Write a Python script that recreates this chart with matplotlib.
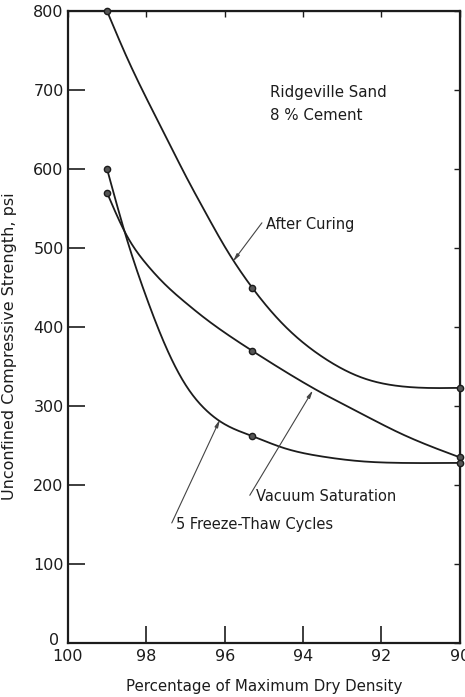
import numpy as np
import matplotlib
matplotlib.use("Agg")
import matplotlib.pyplot as plt
from matplotlib.transforms import ScaledTranslation

# measured strengths (psi) at each density level
density = [99.0, 95.3, 90.0]
after_curing = [800, 450, 323]
vacuum_sat = [570, 370, 235]
freeze_thaw = [600, 262, 228]

# hand-faired curves through the measured points
curve_x = [99.0, 98.5, 98.0, 97.5, 97.0, 96.5, 96.0, 95.3, 94.5, 93.5, 92.5, 91.5, 90.0]
after_curve = [800, 742, 690, 641, 592, 546, 502, 450, 403, 362, 336, 325, 323]
vacuum_curve = [570, 516, 480, 453, 431, 411, 393, 370, 345, 316, 290, 265, 235]
freeze_curve = [600, 512, 438, 375, 327, 296, 277, 262, 247, 236, 230, 228, 228]

x_ticks = [100, 98, 96, 94, 92, 90]
y_ticks = [0, 100, 200, 300, 400, 500, 600, 700, 800]


def spline(xs, ys, n=400):
    """Natural cubic spline through the points, sampled finely."""
    x = np.asarray(xs, float)[::-1]
    y = np.asarray(ys, float)[::-1]
    h = np.diff(x)
    m = len(x)
    A = np.zeros((m, m))
    b = np.zeros(m)
    A[0, 0] = A[-1, -1] = 1
    for i in range(1, m - 1):
        A[i, i - 1] = h[i - 1]
        A[i, i] = 2 * (h[i - 1] + h[i])
        A[i, i + 1] = h[i]
        b[i] = 6 * ((y[i + 1] - y[i]) / h[i] - (y[i] - y[i - 1]) / h[i - 1])
    M = np.linalg.solve(A, b)
    xf = np.linspace(x[0], x[-1], n)
    k = np.clip(np.searchsorted(x, xf) - 1, 0, m - 2)
    t1 = x[k + 1] - xf
    t0 = xf - x[k]
    hk = h[k]
    yf = (M[k] * t1 ** 3 + M[k + 1] * t0 ** 3) / (6 * hk) \
        + (y[k] / hk - M[k] * hk / 6) * t1 + (y[k + 1] / hk - M[k + 1] * hk / 6) * t0
    return xf, yf


fig = plt.figure(figsize=(4.65, 6.97), dpi=100)
ax = fig.add_axes([0.146, 0.0775, 0.843, 0.9065])

ink = "#1c1c1c"
for cy in [after_curve, vacuum_curve, freeze_curve]:
    sx, sy = spline(curve_x, cy)
    ax.plot(sx, sy, color=ink, lw=1.3, clip_on=False, zorder=3)

for vals in [after_curing, vacuum_sat, freeze_thaw]:
    ax.plot(density, vals, "o", ms=4.5, mfc="#555555", mec=ink, mew=1.0,
            clip_on=False, zorder=4)

ax.set_xlim(100, 90)
ax.set_ylim(0, 800)
ax.set_xticks(x_ticks)
ax.set_yticks(y_ticks)
ax.tick_params(direction="in", length=12, width=1.2, labelsize=11.5, colors=ink)
ax.tick_params(axis="x", pad=4)
ax.tick_params(axis="y", pad=3)
for s in ax.spines.values():
    s.set_linewidth(1.6)
    s.set_color(ink)

# lift the zero label clear of the "100" below it
fig.canvas.draw()
zero = ax.get_yticklabels()[0]
zero.set_transform(zero.get_transform() + ScaledTranslation(-3 / 72, 3 / 72, fig.dpi_scale_trans))

# short inward ticks on the top and right frame
top = ax.secondary_xaxis("top")
top.set_xticks(x_ticks)
top.tick_params(direction="in", length=4, width=1.0, labeltop=False, colors=ink)
right = ax.secondary_yaxis("right")
right.set_yticks(y_ticks)
right.tick_params(direction="in", length=4, width=1.0, labelright=False, colors=ink)

ax.set_xlabel("Percentage of Maximum Dry Density", fontsize=10.8, labelpad=11, color=ink)
ax.set_ylabel("Unconfined Compressive Strength, psi", fontsize=11.5, color=ink)
ax.yaxis.set_label_coords(-0.13, 0.47)

ax.text(94.85, 697, "Ridgeville Sand", fontsize=10.8, va="center", color=ink)
ax.text(94.85, 668, "8 % Cement", fontsize=10.8, va="center", color=ink)

leader = dict(arrowstyle="-|>,head_length=0.45,head_width=0.1", color="#444444",
              lw=0.8, shrinkA=0, shrinkB=0)
ax.annotate("", xy=(95.79, 483), xytext=(95.05, 532), arrowprops=leader)
ax.text(94.95, 530, "After Curing", fontsize=10.5, va="center", color=ink)
ax.annotate("", xy=(93.75, 320), xytext=(95.36, 187), arrowprops=leader)
ax.text(95.2, 186, "Vacuum Saturation", fontsize=10.5, va="center", color=ink)
ax.annotate("", xy=(96.12, 283), xytext=(97.35, 152), arrowprops=leader)
ax.text(97.25, 150, "5 Freeze-Thaw Cycles", fontsize=10.5, va="center", color=ink)

fig.savefig("out.png", dpi=100)
